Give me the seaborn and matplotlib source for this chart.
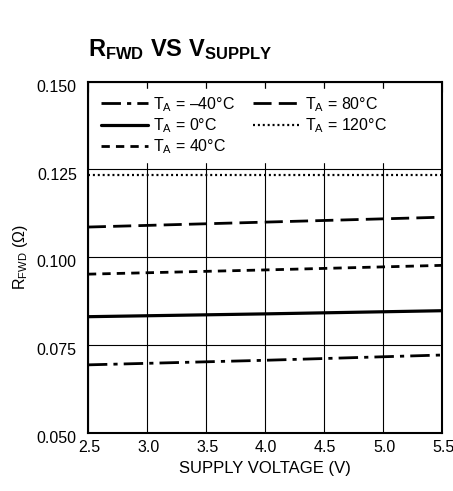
import numpy as np
import pandas as pd
import matplotlib
matplotlib.use("Agg")
import matplotlib.pyplot as plt
from matplotlib.transforms import ScaledTranslation
import seaborn as sns

# data (endpoints + midpoint)
voltage = [2.5, 4.0, 5.5]
r_m40 = [0.0694, 0.0707, 0.0722]
r_0 = [0.0831, 0.0839, 0.0848]
r_40 = [0.0952, 0.0964, 0.0977]
r_80 = [0.1086, 0.1100, 0.1114]
r_120 = [0.1234, 0.1234, 0.1234]

labels = [r"$\mathregular{T_A}$ = –40°C", r"$\mathregular{T_A}$ = 0°C",
          r"$\mathregular{T_A}$ = 40°C", r"$\mathregular{T_A}$ = 80°C",
          r"$\mathregular{T_A}$ = 120°C"]
series = [r_m40, r_0, r_40, r_80, r_120]

xticks = [2.5, 3.0, 3.5, 4.0, 4.5, 5.0, 5.5]
yticks = [0.050, 0.075, 0.100, 0.125, 0.150]

FONT = 'Liberation Sans'
sns.set_style("white")
plt.rcParams['font.family'] = [FONT, 'DejaVu Sans']
plt.rcParams['mathtext.fontset'] = 'custom'
plt.rcParams['mathtext.rm'] = FONT
plt.rcParams['mathtext.bf'] = FONT + ':bold'
plt.rcParams['text.color'] = 'black'
plt.rcParams['axes.labelcolor'] = 'black'

fig, ax = plt.subplots(figsize=(4.53, 4.91), dpi=100)
fig.subplots_adjust(left=0.194, right=0.975, top=0.834, bottom=0.118)

styles = [
    dict(lw=2.0, dashes=(7, 2.2, 1.5, 2.2)),
    dict(lw=2.3, linestyle='-'),
    dict(lw=2.0, dashes=(3.0, 2.2)),
    dict(lw=2.0, dashes=(6.5, 2.6)),
    dict(lw=1.6, dashes=(0.9, 1.3)),
]

for vals, lab, st in zip(series, labels, styles):
    df = pd.DataFrame({'V': voltage, 'R': vals})
    sns.lineplot(data=df, x='V', y='R', ax=ax, color='black', label=lab,
                 legend=False, **st)

ax.set_xlim(2.5, 5.5)
ax.set_ylim(0.050, 0.150)
ax.set_xticks(xticks)
ax.set_yticks(yticks)
ax.set_xticklabels([f"{t:.1f}" for t in xticks], fontsize=11.5)
ax.set_yticklabels([f"{t:.3f}" for t in yticks], fontsize=11.5)
ax.tick_params(axis='both', direction='in', length=0, pad=5, colors='black')
ax.tick_params(axis='y', pad=8)
ax.tick_params(axis='x', top=True, length=7, width=0.8)
ax.tick_params(axis='x', bottom=False)
ax.grid(True, color='black', lw=0.8)
for sp in ax.spines.values():
    sp.set_color('black')
    sp.set_linewidth(1.5)

# y tick labels sit slightly below their grid lines in the original
for lab in ax.get_yticklabels():
    lab.set_transform(lab.get_transform() + ScaledTranslation(0, -3 / 72, fig.dpi_scale_trans))
for lab in ax.get_xticklabels():
    lab.set_transform(lab.get_transform() + ScaledTranslation(1 / 72, 0, fig.dpi_scale_trans))

ax.set_xlabel("SUPPLY VOLTAGE (V)", fontsize=12, labelpad=4)
ax.set_ylabel(r"$\mathregular{R_{FWD}}$ (Ω)", fontsize=11.5, labelpad=5)

ax.set_title(r"$\mathregular{R_{FWD}}$ VS $\mathregular{V_{SUPPLY}}$",
             fontsize=17, fontweight='bold', loc='left', pad=18)

leg = ax.legend(loc='upper left', ncol=2, fontsize=11.5, frameon=True,
                handlelength=2.9, handletextpad=0.35, columnspacing=1.1,
                labelspacing=0.15, borderaxespad=0.5, borderpad=0.35)
leg.get_frame().set_edgecolor('white')
leg.get_frame().set_facecolor('white')
leg.get_frame().set_alpha(1.0)
leg.get_frame().set_boxstyle('square', pad=0)
leg.set_zorder(5)

fig.savefig("out.png", dpi=100)
